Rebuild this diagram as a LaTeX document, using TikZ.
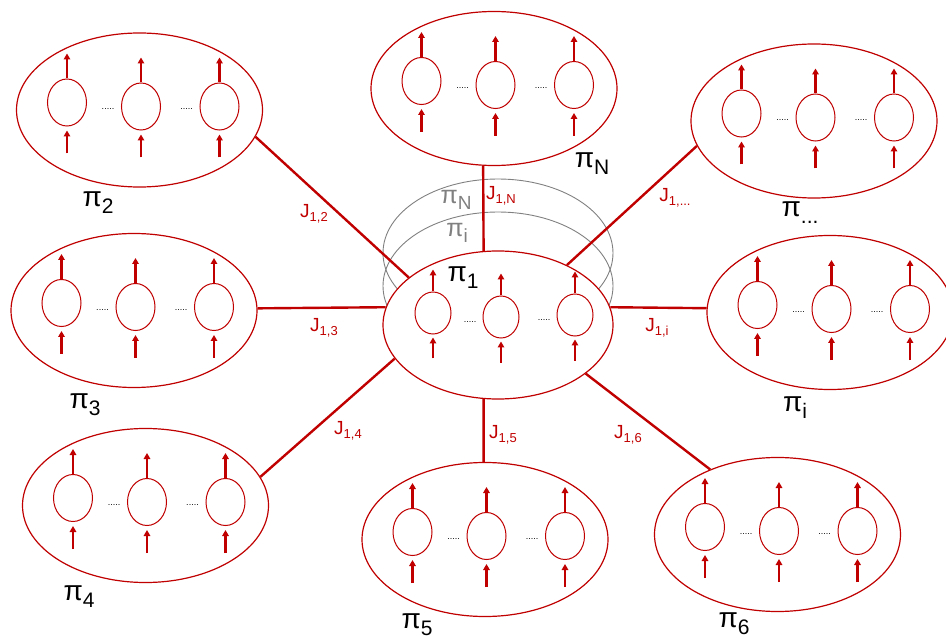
\documentclass[tikz,border=0pt]{standalone}
\usepackage{fontspec}
\setmainfont{Liberation Sans}
\definecolor{spinred}{RGB}{192,0,0}
\definecolor{shade}{RGB}{128,128,128}
\usetikzlibrary{arrows.meta,shapes.geometric,calc}
\newcommand{\pilab}[1]{{\fontsize{28}{28}\selectfont π}{\fontsize{21}{21}\selectfont\raisebox{-0.33em}{#1}}}
\newcommand{\pishade}[1]{{\fontsize{25}{25}\selectfont π}{\fontsize{19}{19}\selectfont\raisebox{-0.33em}{#1}}}
\newcommand{\jlab}[1]{{\fontsize{19}{19}\selectfont J}{\fontsize{13}{13}\selectfont\raisebox{-0.3em}{#1}}}

\begin{document}
\begin{tikzpicture}[x=1pt,y=-1pt,
    cluster/.style={ellipse,draw=spinred,line width=1.2pt,fill=white,minimum width=246pt,minimum height=154pt,inner sep=0pt},
    site/.style={ellipse,draw=spinred,line width=1pt,minimum width=39pt,minimum height=47pt,inner sep=0pt},
    spin/.style={spinred,line width=2.2pt,-{Triangle[width=6.5pt,length=6pt]}},
    bond/.style={spinred,line width=2.4pt},
    layer/.style={ellipse,draw=shade,line width=0.9pt,minimum width=230pt,minimum height=148pt,inner sep=0pt},
    dots/.style={font=\fontsize{9}{9}\selectfont,inner sep=0pt},
    lab/.style={inner sep=0pt},
    jl/.style={text=spinred,inner sep=0pt}]
  \useasboundingbox (0,0) rectangle (946,639);

  % outer clusters
  \foreach \n/\cx/\cy in {2/139.5/110, N/494/88.5, dots/814/121, 3/134/310.5,
                         i/830/312.5, 4/145.5/505.5, 5/485/539.5, 6/777.5/534.5}{
    \node[cluster] (p\n) at (\cx,\cy) {};
    \node[site] (p\n-a) at ($(p\n)+(-72.5,-7.5)$) {};
    \node[site] (p\n-b) at ($(p\n)+(1.5,-3.5)$) {};
    \node[site] (p\n-c) at ($(p\n)+(80,-3.5)$) {};
    \foreach \s in {a,b,c}{
      \draw[spin] (p\n-\s.north) -- ++(0,-25);
      \draw[spin] ($(p\n-\s.south)+(0,27)$) -- ($(p\n-\s.south)+(0,4)$);
    }
    \node[dots] (p\n-d1) at ($(p\n)+(-31.5,-0.5)$) {.....};
    \node[dots] (p\n-d2) at ($(p\n)+(47,-0.5)$) {.....};
  }

  % central cluster with the stacked copies behind it
  \node[layer] (g1) at (498,253) {};
  \node[layer] (g2) at (498,286) {};
  \node[cluster,minimum width=230pt,minimum height=148pt] (p1) at (498,325) {};
  \node[site,minimum width=36pt,minimum height=42pt] (p1-a) at ($(p1)+(-65,-12)$) {};
  \node[site,minimum width=36pt,minimum height=42pt] (p1-b) at ($(p1)+(3,-8)$) {};
  \node[site,minimum width=36pt,minimum height=42pt] (p1-c) at ($(p1)+(77,-10)$) {};
  \foreach \s in {a,b,c}{
    \draw[spin] (p1-\s.north) -- ++(0,-22);
    \draw[spin] ($(p1-\s.south)+(0,24)$) -- ($(p1-\s.south)+(0,3)$);
  }
  \node[dots] (p1-d1) at ($(p1)+(-28,-3)$) {.....};
  \node[dots] (p1-d2) at ($(p1)+(46,-5)$) {.....};

  % couplings
  \draw[bond] (p1.152) -- (p2.347);
  \draw[bond] (p1.101) -- (pN.262);
  \draw[bond] (p1.41) -- (pdots.192);
  \draw[bond] (p1.171) -- (p3.1);
  \draw[bond] (p1.9) -- (pi.178);
  \draw[bond] (p1.198) -- (p4.14);
  \draw[bond] (p1.259) -- (p5.91);
  \draw[bond] (p1.331) -- (p6.136);

  % labels
  \node[lab] (l1) at (463,278) {\pilab{1}};
  \node[lab] (l2) at (98,203) {\pilab{2}};
  \node[lab] (l3) at (85,405) {\pilab{3}};
  \node[lab] (l4) at (79,597) {\pilab{4}};
  \node[lab] (l5) at (417,625) {\pilab{5}};
  \node[lab] (l6) at (734,624) {\pilab{6}};
  \node[lab] (li) at (795,408) {\pilab{i}};
  \node[lab] (lN) at (592,164) {\pilab{N}};
  \node[lab] (ldots) at (800,213) {\pilab{...}};
  \node[lab,text=shade] (gN) at (456,200) {\pishade{N}};
  \node[lab,text=shade] (gi) at (457,233) {\pishade{i}};

  \node[jl] (j2) at (314,214) {\jlab{1,2}};
  \node[jl] (j3) at (324,328) {\jlab{1,3}};
  \node[jl] (j4) at (348,431) {\jlab{1,4}};
  \node[jl] (j5) at (503,435) {\jlab{1,5}};
  \node[jl] (j6) at (628,435) {\jlab{1,6}};
  \node[jl] (ji) at (657,328) {\jlab{1,i}};
  \node[jl] (jdots) at (675,198) {\jlab{1,...}};
  \node[jl] (jN) at (501,196) {\jlab{1,N}};
\end{tikzpicture}
\end{document}
